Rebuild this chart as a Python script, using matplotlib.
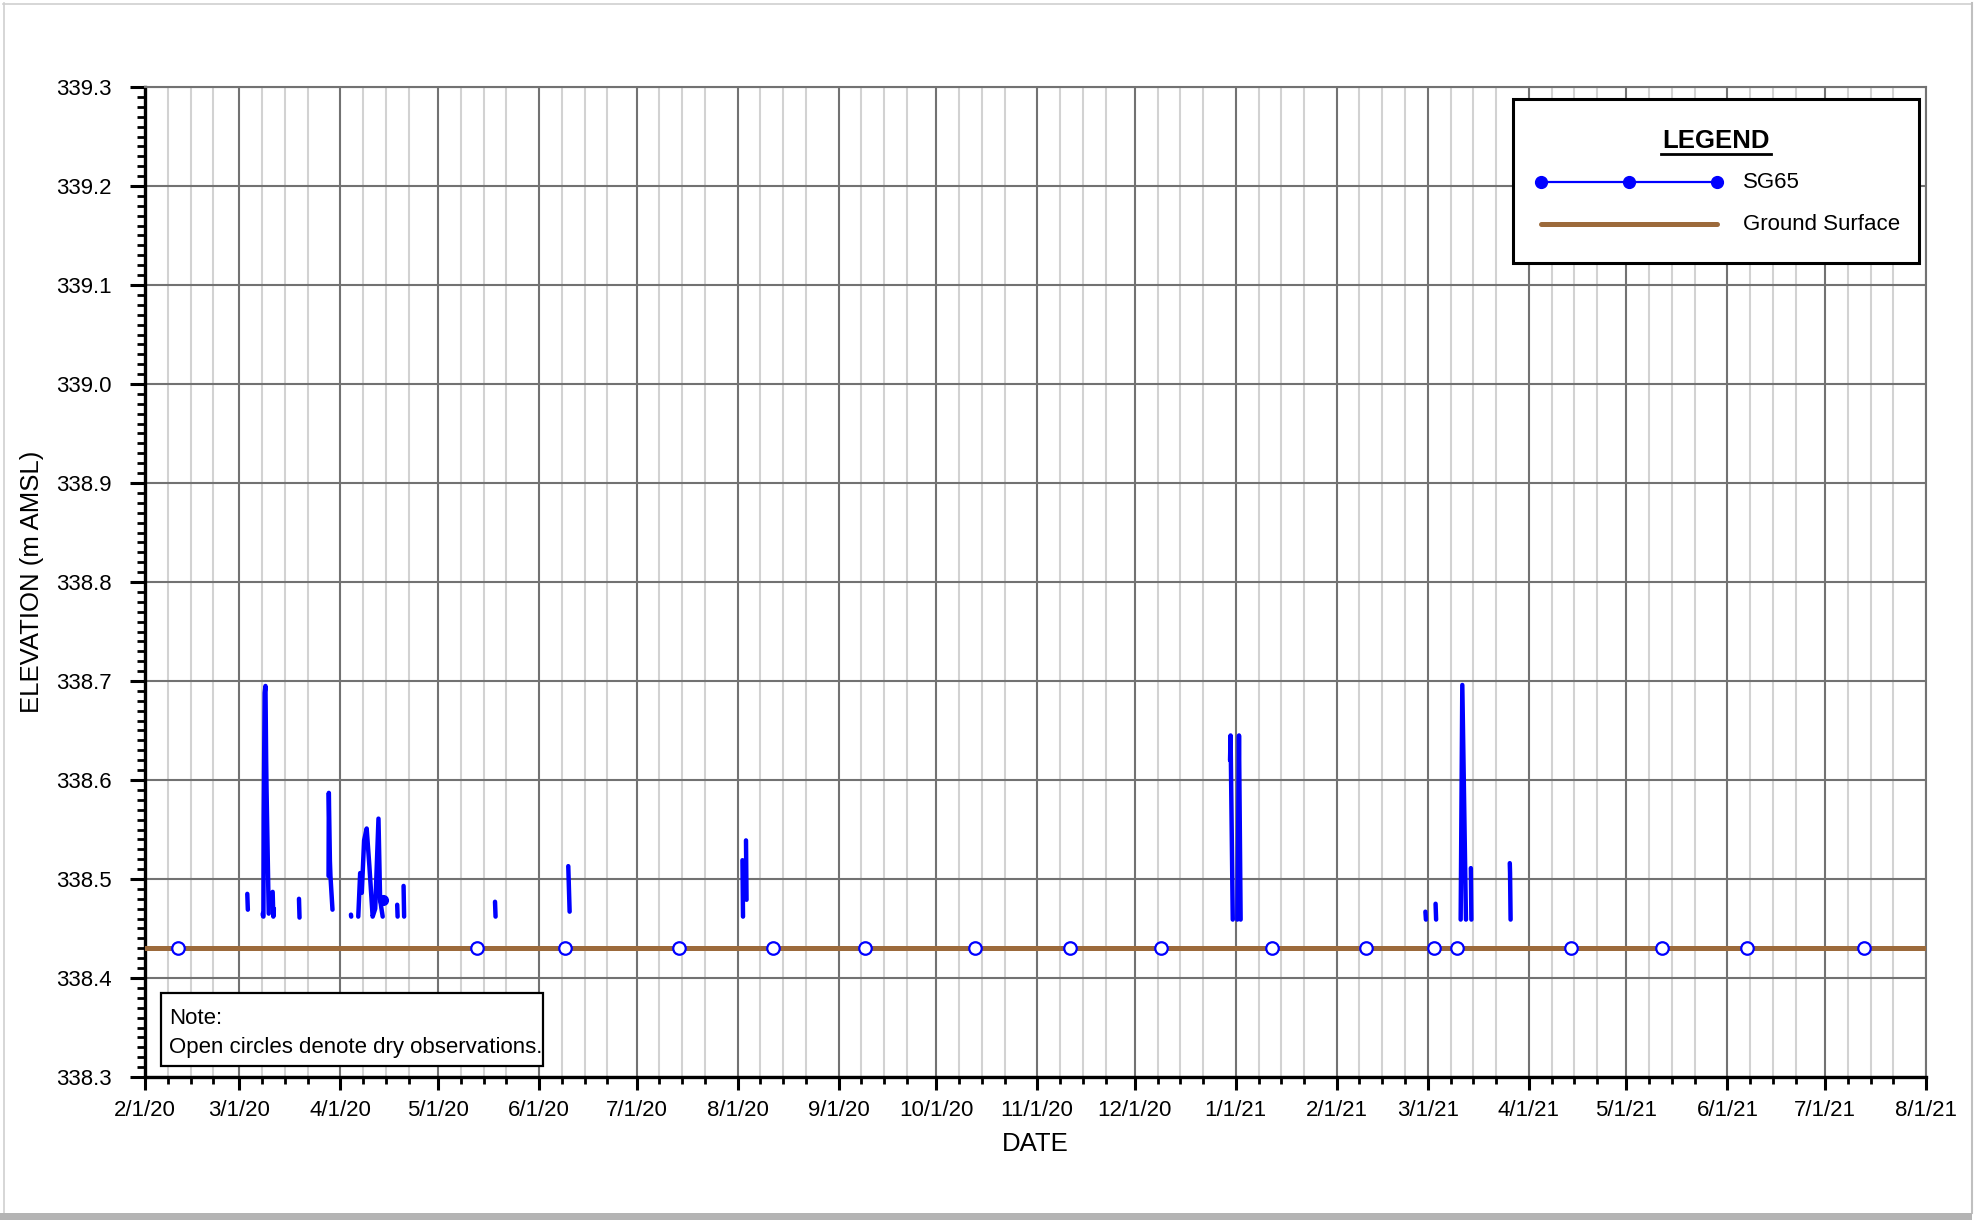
import matplotlib
matplotlib.use("Agg")
import matplotlib.pyplot as plt
import matplotlib.dates as mdates
from matplotlib.ticker import MultipleLocator, FuncFormatter
from matplotlib.patches import Rectangle
from matplotlib.lines import Line2D
import numpy as np
import pandas as pd

plt.rcParams['font.family'] = ['Liberation Sans', 'DejaVu Sans']

NAN = np.nan

# ---------------- data ----------------
# SG65 logger record (NaN rows separate discontinuous wet periods)
sg65_times = [
    "2020-03-03 10:00", "2020-03-03 14:00", "2020-03-03 14:00",
    "2020-03-08 04:00", "2020-03-08 05:00", "2020-03-08 05:00",
    "2020-03-08 09:00", "2020-03-08 11:00", "2020-03-08 18:00", "2020-03-09 00:00",
    "2020-03-09 05:00", "2020-03-09 08:00", "2020-03-10 00:00", "2020-03-10 00:00",
    "2020-03-11 05:00", "2020-03-11 10:00", "2020-03-11 14:00", "2020-03-11 14:00",
    "2020-03-19 07:00", "2020-03-19 11:00", "2020-03-19 11:00",
    "2020-03-28 09:00", "2020-03-28 11:00", "2020-03-28 19:00", "2020-03-28 23:00",
    "2020-03-29 14:00", "2020-03-29 14:00",
    "2020-04-04 06:00", "2020-04-04 08:00", "2020-04-04 08:00",
    "2020-04-06 12:00", "2020-04-07 02:00", "2020-04-07 14:00", "2020-04-08 07:00",
    "2020-04-09 02:00", "2020-04-09 22:00", "2020-04-10 22:00", "2020-04-11 17:00",
    "2020-04-12 17:00", "2020-04-13 05:00", "2020-04-14 00:00", "2020-04-14 00:00",
    "2020-04-18 11:00", "2020-04-18 14:00", "2020-04-18 14:00",
    "2020-04-20 10:00", "2020-04-20 14:00", "2020-04-20 14:00",
    "2020-05-18 12:00", "2020-05-18 16:00", "2020-05-18 16:00",
    "2020-06-10 00:00", "2020-06-10 05:00", "2020-06-10 10:00", "2020-06-10 10:00",
    "2020-08-02 12:00", "2020-08-02 16:00", "2020-08-02 16:00",
    "2020-08-03 14:00", "2020-08-03 18:00", "2020-08-03 18:00",
    "2020-12-30 06:00", "2020-12-30 10:00", "2020-12-31 02:00", "2020-12-31 02:00",
    "2021-01-01 12:00", "2021-01-02 00:00", "2021-01-02 12:00", "2021-01-02 12:00",
    "2021-02-28 06:00", "2021-02-28 10:00", "2021-02-28 10:00",
    "2021-03-03 09:00", "2021-03-03 13:00", "2021-03-03 13:00",
    "2021-03-11 02:00", "2021-03-11 14:00", "2021-03-12 17:00", "2021-03-12 17:00",
    "2021-03-14 05:00", "2021-03-14 09:00", "2021-03-14 09:00",
    "2021-03-26 04:00", "2021-03-26 06:00", "2021-03-26 10:00",
]
sg65_elev = [
    338.485, 338.469, NAN,
    338.465, 338.463, NAN,
    338.462, 338.563, 338.688, 338.695,
    338.620, 338.590, 338.465, NAN,
    338.487, 338.462, 338.470, NAN,
    338.480, 338.461, NAN,
    338.503, 338.587, 338.518, 338.503,
    338.469, NAN,
    338.464, 338.462, NAN,
    338.462, 338.506, 338.486, 338.539,
    338.551, 338.513, 338.462, 338.470,
    338.561, 338.479, 338.462, NAN,
    338.474, 338.462, NAN,
    338.493, 338.462, NAN,
    338.477, 338.462, NAN,
    338.513, 338.490, 338.467, NAN,
    338.519, 338.462, NAN,
    338.539, 338.479, NAN,
    338.620, 338.645, 338.459, NAN,
    338.459, 338.645, 338.459, NAN,
    338.467, 338.459, NAN,
    338.475, 338.459, NAN,
    338.459, 338.696, 338.459, NAN,
    338.511, 338.459, NAN,
    338.516, 338.506, 338.459,
]

# manual (wet) observation
manual_times = ["2020-04-14 00:00"]
manual_elev = [338.479]

# dry observations (plotted at ground surface)
dry_dates = [
    "2020-02-11", "2020-05-13", "2020-06-09", "2020-07-14", "2020-08-12",
    "2020-09-09", "2020-10-13", "2020-11-11", "2020-12-09", "2021-01-12",
    "2021-02-10", "2021-03-03", "2021-03-10", "2021-04-14", "2021-05-12",
    "2021-06-07", "2021-07-13",
]
ground_dates = ["2020-02-01", "2021-08-01"]
ground_elev = [338.43, 338.43]

x_start, x_end = "2020-02-01", "2021-08-01"
y_min, y_max = 338.3, 339.3

BLUE = "#0000ff"
BROWN = "#9c6a3b"
GRID_DARK = "#727272"
GRID_LIGHT = "#d2d2d2"

TICK_FS = 16
TEXT_FS = 16
LABEL_FS = 18.5

# ---------------- figure ----------------
W, H = 1986, 1220
fig = plt.figure(figsize=(W / 100, H / 100), dpi=100)
fig.patch.set_facecolor("white")

def fx(px):
    return px / W

def fy(py):
    return 1 - py / H

ax_l, ax_r, ax_t, ax_b = 145, 1926, 87, 1077
ax = fig.add_axes([fx(ax_l), fy(ax_b), (ax_r - ax_l) / W, (ax_b - ax_t) / H])

t = pd.to_datetime(sg65_times)
ax.plot(t, sg65_elev, color=BLUE, lw=3.2, solid_capstyle="round",
        solid_joinstyle="round", zorder=5)
ax.plot(pd.to_datetime(manual_times), manual_elev, "o", color=BLUE, ms=7, zorder=6)
ax.plot(pd.to_datetime(ground_dates), ground_elev, color=BROWN, lw=3.6, zorder=4)
ax.plot(pd.to_datetime(dry_dates), [ground_elev[0]] * len(dry_dates), "o",
        mfc="white", mec=BLUE, mew=1.6, ms=9, zorder=7, clip_on=False)

ax.set_xlim(pd.Timestamp(x_start), pd.Timestamp(x_end))
ax.set_ylim(y_min, y_max)

ax.xaxis.set_major_locator(mdates.MonthLocator())
ax.xaxis.set_minor_locator(mdates.DayLocator(bymonthday=[8, 15, 22]))
ax.xaxis.set_major_formatter(FuncFormatter(
    lambda v, p: (lambda d: f"{d.month}/{d.day}/{d.strftime('%y')}")(mdates.num2date(v))))
ax.yaxis.set_major_locator(MultipleLocator(0.1))
ax.yaxis.set_minor_locator(MultipleLocator(0.01))
ax.yaxis.set_major_formatter(FuncFormatter(lambda v, p: f"{v:.1f}"))

ax.grid(which="major", axis="x", color=GRID_DARK, lw=1.5, zorder=1)
ax.grid(which="minor", axis="x", color=GRID_LIGHT, lw=1.5, zorder=1)
ax.grid(which="major", axis="y", color=GRID_DARK, lw=1.5, zorder=1)
ax.set_axisbelow(True)

for s in ["left", "bottom"]:
    ax.spines[s].set_color("black")
    ax.spines[s].set_linewidth(2.4)
for s in ["top", "right"]:
    ax.spines[s].set_color(GRID_DARK)
    ax.spines[s].set_linewidth(1.5)

ax.tick_params(axis="y", which="major", length=11, width=2.2, pad=13, labelsize=TICK_FS, direction="out")
ax.tick_params(axis="y", which="minor", length=5.5, width=2.0, direction="out")
ax.tick_params(axis="x", which="major", length=9.5, width=2.2, pad=7, labelsize=TICK_FS, direction="out")
ax.tick_params(axis="x", which="minor", length=5, width=2.0, direction="out")

ax.set_xlabel("DATE", fontsize=LABEL_FS)
ax.set_ylabel("ELEVATION (m AMSL)", fontsize=LABEL_FS)
ax.xaxis.set_label_coords(0.5, (ax_b - 1144) / (ax_b - ax_t), transform=ax.transAxes)
ax.yaxis.set_label_coords((32 - ax_l) / (ax_r - ax_l), 0.5, transform=ax.transAxes)
ax.xaxis.label.set_va("center")
ax.yaxis.label.set_va("center")

# ---------------- legend box ----------------
lg_l, lg_r, lg_t, lg_b = 1513, 1919, 99, 263
fig.add_artist(Rectangle((fx(lg_l), fy(lg_b)), (lg_r - lg_l) / W, (lg_b - lg_t) / H,
                         transform=fig.transFigure, facecolor="white",
                         edgecolor="black", lw=2.2, zorder=10))
fig.text(fx(1716), fy(141), "LEGEND", ha="center", va="center", fontsize=18.5,
         fontweight="bold", zorder=11)
fig.add_artist(Line2D([fx(1661), fx(1771)], [fy(154), fy(154)], color="black",
                      lw=2.0, transform=fig.transFigure, zorder=11))
fig.add_artist(Line2D([fx(1541), fx(1629), fx(1717)], [fy(182)] * 3, color=BLUE,
                      lw=1.6, marker="o", ms=8.5, transform=fig.transFigure, zorder=11))
fig.text(fx(1743), fy(183), "SG65", ha="left", va="center", fontsize=TEXT_FS, zorder=11)
fig.add_artist(Line2D([fx(1541), fx(1717)], [fy(224)] * 2, color=BROWN, lw=3.6,
                      solid_capstyle="round", transform=fig.transFigure, zorder=11))
fig.text(fx(1743), fy(225), "Ground Surface", ha="left", va="center", fontsize=TEXT_FS, zorder=11)

# ---------------- note box ----------------
nb_l, nb_r, nb_t, nb_b = 161, 543, 993, 1066
fig.add_artist(Rectangle((fx(nb_l), fy(nb_b)), (nb_r - nb_l) / W, (nb_b - nb_t) / H,
                         transform=fig.transFigure, facecolor="white",
                         edgecolor="black", lw=1.6, zorder=10))
fig.text(fx(169), fy(1018), "Note:", ha="left", va="center", fontsize=TEXT_FS, zorder=11)
fig.text(fx(169), fy(1048), "Open circles denote dry observations.", ha="left",
         va="center", fontsize=TEXT_FS, zorder=11)

# ---------------- page frame ----------------
fig.add_artist(Line2D([fx(3.5), fx(3.5)], [fy(3), fy(1213)], color="#d0d0d0", lw=1.2,
                      transform=fig.transFigure, zorder=20))
fig.add_artist(Line2D([fx(3), fx(1972)], [fy(3.5), fy(3.5)], color="#d0d0d0", lw=1.2,
                      transform=fig.transFigure, zorder=20))
fig.add_artist(Line2D([fx(1972), fx(1972)], [fy(3), fy(1213)], color="#c0c0c0", lw=1.5,
                      transform=fig.transFigure, zorder=20))
fig.add_artist(Rectangle((0, 0), fx(1972), 7.5 / H, transform=fig.transFigure,
                         facecolor="#b4b4b4", edgecolor="none", zorder=20))

fig.savefig("out.png", dpi=100, facecolor="white")
